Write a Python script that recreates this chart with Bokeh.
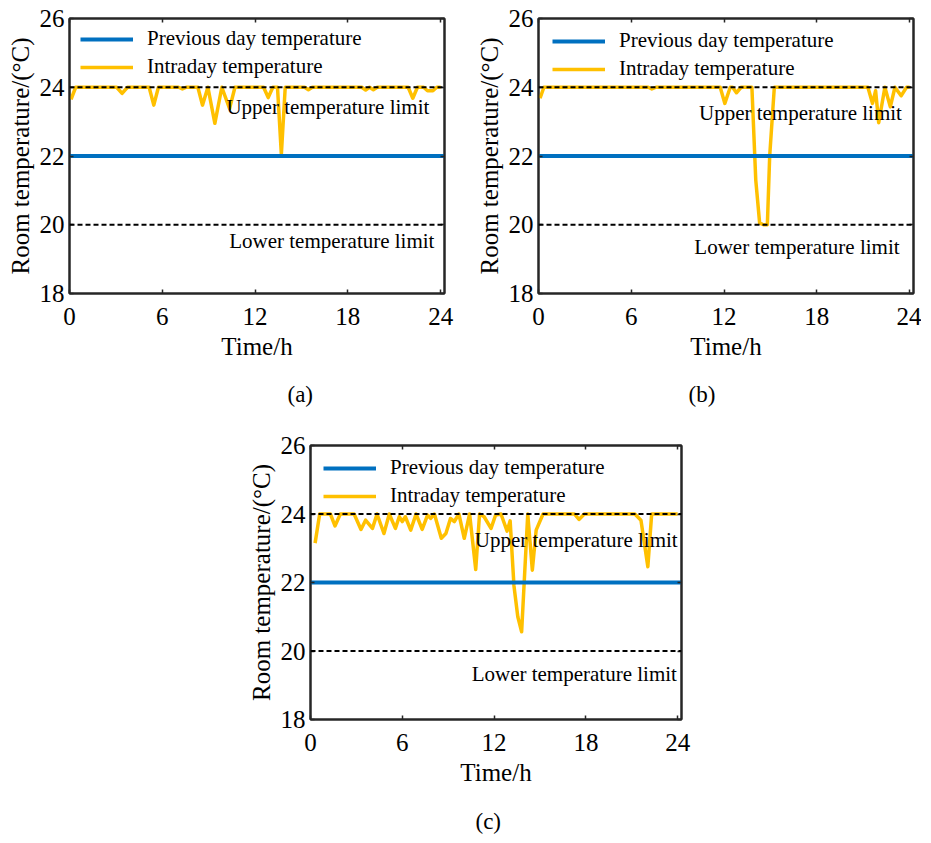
from bokeh.plotting import figure
from bokeh.models import (Range1d, Span, Label, Legend, LegendItem, LinearAxis,
                          FixedTicker, Title, Spacer)
from bokeh.layouts import column, row
from bokeh.embed import file_html
from bokeh.resources import INLINE

# ---------------- data ----------------
x_ticks = [0, 6, 12, 18, 24]
y_ticks = [18, 20, 22, 24, 26]
upper_limit = 24.0
lower_limit = 20.0
prev_day_time = [0.0, 24.25]
prev_day_temp = [22.0, 22.0]

time_a = [0.1, 0.4, 3.05, 3.4, 3.75, 5.15, 5.45, 5.75, 7.05, 7.3,
          7.55, 8.3, 8.6, 8.95, 9.4, 9.85, 10.35, 10.7, 12.55, 12.85,
          13.15, 13.45, 13.7, 13.95, 15.2, 15.45, 15.7, 18.9, 19.15, 19.4,
          19.65, 19.9, 21.9, 22.2, 22.5, 22.9, 23.15, 23.5, 23.75, 24.0]
temp_a = [23.65, 24.0, 24.0, 23.82, 24.0, 24.0, 23.48, 24.0, 24.0, 23.95,
          24.0, 24.0, 23.48, 24.0, 22.95, 24.0, 23.38, 24.0, 24.0, 23.7,
          24.0, 24.0, 22.05, 24.0, 24.0, 23.93, 24.0, 24.0, 23.92, 24.0,
          23.93, 24.0, 24.0, 23.68, 24.0, 24.0, 23.9, 23.9, 24.0, 24.0]

time_b = [0.1, 0.35, 7.1, 7.33, 7.6, 11.75, 12.05, 12.4, 12.55, 12.8,
          13.1, 13.8, 14.05, 14.3, 14.55, 14.8, 14.95, 15.25, 21.3, 21.6,
          21.8, 22.0, 22.4, 22.75, 23.05, 23.45, 23.8, 24.0]
temp_b = [23.68, 24.0, 24.0, 23.95, 24.0, 24.0, 23.53, 24.0, 24.0, 23.84,
          24.0, 24.0, 21.3, 20.05, 20.0, 20.0, 22.0, 24.0, 24.0, 23.53,
          23.9, 22.97, 24.0, 23.43, 24.0, 23.75, 24.0, 24.0]

time_c = [0.3, 0.6, 1.3, 1.6, 1.95, 2.85, 3.3, 3.6, 4.05, 4.35,
          4.8, 5.15, 5.55, 5.8, 6.0, 6.2, 6.55, 6.9, 7.3, 7.65,
          7.85, 8.1, 8.55, 8.85, 9.15, 9.4, 9.7, 10.05, 10.4, 10.8,
          11.05, 11.35, 11.8, 12.1, 12.45, 12.85, 13.05, 13.3, 13.55, 13.8,
          14.2, 14.5, 14.75, 15.2, 17.25, 17.55, 17.9, 21.2, 21.6, 22.05,
          22.3, 24.0]
temp_c = [23.15, 24.0, 24.0, 23.65, 24.0, 24.0, 23.55, 23.82, 23.58, 24.0,
          23.43, 24.0, 23.58, 23.92, 23.78, 23.92, 23.53, 24.0, 23.55, 23.97,
          23.87, 24.0, 23.29, 23.43, 23.87, 23.78, 24.0, 23.29, 24.0, 22.38,
          24.0, 23.92, 23.58, 23.97, 24.0, 23.5, 23.8, 21.9, 21.0, 20.56,
          24.0, 22.36, 23.53, 24.0, 24.0, 23.84, 24.0, 24.0, 23.82, 22.46,
          24.0, 24.0]

series_labels = ["Previous day temperature", "Intraday temperature"]
upper_text = "Upper temperature limit"
lower_text = "Lower temperature limit"
x_label = "Time/h"
y_label = "Room temperature/(\u00b0C)"

# ---------------- style ----------------
FONT = "Liberation Serif"
BLUE = "#0070C0"
YELLOW = "#FFC000"
AX = "#262626"


def style_axis(ax, ticks, show_labels=True):
    ax.ticker = FixedTicker(ticks=ticks)
    ax.major_tick_in = 4
    ax.major_tick_out = 0
    ax.minor_tick_line_color = None
    ax.axis_line_color = AX
    ax.axis_line_width = 2
    ax.major_tick_line_color = AX
    ax.major_tick_line_width = 1.5
    ax.major_label_text_font = FONT
    ax.axis_label_text_font = FONT
    ax.axis_label_text_font_style = "normal"
    ax.axis_label_text_color = "black"
    ax.axis_label_text_font_size = "25px"
    if show_labels:
        ax.major_label_text_font_size = "25px"
        ax.major_label_text_color = "black"
    else:
        ax.major_label_text_font_size = "1px"
        ax.major_label_text_color = None
        ax.major_label_standoff = 0


def make_panel(time, temp, cfg):
    p = figure(frame_width=cfg["fw"], frame_height=cfg["fh"],
               x_range=Range1d(0, 24.25), y_range=Range1d(18, 26),
               output_backend="svg", toolbar_location=None,
               min_border_left=cfg["bl"], min_border_right=cfg["br"],
               min_border_top=cfg["bt"], min_border_bottom=cfg["bb"],
               background_fill_color="white", border_fill_color="white")
    p.grid.visible = False
    p.outline_line_color = AX
    p.outline_line_width = 2
    p.outline_line_alpha = 1

    style_axis(p.xaxis[0], x_ticks)
    style_axis(p.yaxis[0], y_ticks)
    p.xaxis.axis_label = x_label
    p.yaxis.axis_label = y_label
    p.xaxis.major_label_standoff = 14
    p.xaxis.axis_label_standoff = 5
    p.yaxis.major_label_standoff = 5
    p.yaxis.axis_label_standoff = 3

    top = LinearAxis()
    style_axis(top, x_ticks, show_labels=False)
    p.add_layout(top, "above")
    right = LinearAxis()
    style_axis(right, y_ticks, show_labels=False)
    p.add_layout(right, "right")

    r_y = p.line(time, temp, line_color=YELLOW, line_width=3.5, line_join="round")
    r_b = p.line(prev_day_time, prev_day_temp, line_color=BLUE, line_width=4)

    for loc in (upper_limit, lower_limit):
        p.add_layout(Span(location=loc, dimension="width", line_color="black",
                          line_width=2, line_dash="5 3"))

    p.add_layout(Label(x=cfg["up"][0], y=cfg["up"][1], text=upper_text,
                       text_align="right", text_baseline="middle",
                       text_font=FONT, text_font_size="21px", text_color="black"))
    p.add_layout(Label(x=cfg["lo"][0], y=cfg["lo"][1], text=lower_text,
                       text_align="right", text_baseline="middle",
                       text_font=FONT, text_font_size="21px", text_color="black"))

    legend = Legend(items=[LegendItem(label=series_labels[0], renderers=[r_b]),
                           LegendItem(label=series_labels[1], renderers=[r_y])],
                    location=cfg["leg"], padding=0, margin=0, spacing=3,
                    glyph_width=53, glyph_height=20, label_height=20,
                    label_standoff=14, border_line_color=None,
                    background_fill_alpha=0,
                    label_text_font=FONT, label_text_font_size="21px",
                    label_text_color="black")
    p.add_layout(legend)

    cap = Title(text=cfg["cap"], align="left", offset=cfg["cap_off"],
                standoff=cfg["cap_sd"],
                text_font=FONT, text_font_size="23px", text_font_style="normal",
                text_color="black")
    p.add_layout(cap, "below")
    return p


cfg_a = dict(fw=375, fh=275, bl=69, br=24, bt=18, bb=137,
             up=(23.27, 23.42), lo=(23.6, 19.54), leg=(11, 214),
             cap="(a)", cap_off=218, cap_sd=35)
cfg_b = dict(fw=375, fh=275, bl=70, br=8, bt=18, bb=137,
             up=(23.5, 23.25), lo=(23.35, 19.34), leg=(14, 212),
             cap="(b)", cap_off=150, cap_sd=35)
cfg_c = dict(fw=371, fh=274, bl=69, br=10, bt=15, bb=112,
             up=(24.0, 23.24), lo=(23.95, 19.34), leg=(13, 211),
             cap="(c)", cap_off=165, cap_sd=37)

pa = make_panel(time_a, temp_a, cfg_a)
pb = make_panel(time_b, temp_b, cfg_b)
pc = make_panel(time_c, temp_c, cfg_c)

layout = column(row(pa, pb), row(Spacer(width=241, height=10), pc))

open("out.html", "w").write(file_html(layout, INLINE))
